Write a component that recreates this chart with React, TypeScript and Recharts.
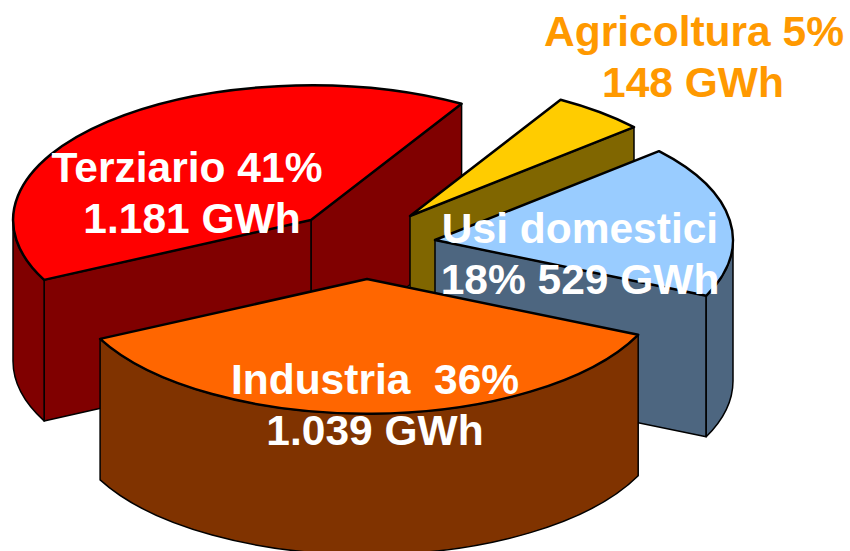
import { Pie, PieChart } from "recharts"

const SECTORS = ["Terziario", "Agricoltura", "Usi domestici", "Industria"]
const GWH = [1181, 148, 529, 1039]
const CAPTION_TOP = ["Terziario 41%", "Agricoltura 5%", "Usi domestici", "Industria  36%"]
const CAPTION_BOTTOM = ["1.181 GWh", "148 GWh", "18% 529 GWh", "1.039 GWh"]

const TOP_COLORS = ["#FF0000", "#FFCC00", "#99CCFF", "#FF6600"]
const WALL_COLORS = ["#800000", "#806600", "#4D6680", "#803300"]
const CAPTION_COLORS = ["#FFFFFF", "#FF9900", "#FFFFFF", "#FFFFFF"]
const CAPTION_X = [187, 694, 580, 375]
const CAPTION_BOTTOM_X = [192, 693, 580, 375]
const CAPTION_Y = [182, 46, 243, 394]
// apex of every pulled-out slice, relative to the pie centre
const EXPLODE_X = [-69, 30, 55, -13]
const EXPLODE_Y = [-20, -24, 0, 39]

const CX = 380
const CY = 240
const RADIUS = 298
const SQUASH = 0.452
const DEPTH = 141
const START_ANGLE = 206.4

const chartData = SECTORS.map((name, index) => ({ name, value: GWH[index], index }))

const FONT = "'Liberation Sans', Arial, sans-serif"

function rad(deg: number) {
  return (deg * Math.PI) / 180
}

function ExtrudedSlice(props: any) {
  const { cx, cy, outerRadius, startAngle, endAngle, payload } = props
  const i = payload.index ?? props.index
  const ox = cx + EXPLODE_X[i]
  const oy = cy + EXPLODE_Y[i]
  const ry = outerRadius * SQUASH
  const px = (a: number) => ox + outerRadius * Math.cos(rad(a))
  const py = (a: number) => oy - ry * Math.sin(rad(a))

  const hi = Math.max(startAngle, endAngle)
  const lo = Math.min(startAngle, endAngle)
  const f = (n: number) => n.toFixed(1)

  const cutFace = (a: number) =>
    `M${f(ox)},${f(oy)} L${f(px(a))},${f(py(a))} L${f(px(a))},${f(py(a) + DEPTH)} L${f(ox)},${f(oy + DEPTH)} Z`

  // part of the rim that faces the viewer (lower half of the ellipse)
  const rims: string[] = []
  for (const [from, to] of [
    [-180, 0],
    [180, 360],
  ]) {
    const a = Math.max(lo, from)
    const b = Math.min(hi, to)
    if (b > a) {
      rims.push(
        `M${f(px(a))},${f(py(a))} A${outerRadius},${f(ry)} 0 ${b - a > 180 ? 1 : 0} 0 ${f(px(b))},${f(py(b))} ` +
          `L${f(px(b))},${f(py(b) + DEPTH)} A${outerRadius},${f(ry)} 0 ${b - a > 180 ? 1 : 0} 1 ${f(px(a))},${f(py(a) + DEPTH)} Z`,
      )
    }
  }

  const top =
    `M${f(ox)},${f(oy)} L${f(px(hi))},${f(py(hi))} ` +
    `A${outerRadius},${f(ry)} 0 ${hi - lo > 180 ? 1 : 0} 1 ${f(px(lo))},${f(py(lo))} Z`

  const wall = WALL_COLORS[i]
  return (
    <g>
      {Math.cos(rad(lo)) > 0 && (
        <path d={cutFace(lo)} fill={wall} stroke="#000" strokeWidth={1.5} strokeLinejoin="round" />
      )}
      {Math.cos(rad(hi)) < 0 && (
        <path d={cutFace(hi)} fill={wall} stroke="#000" strokeWidth={1.5} strokeLinejoin="round" />
      )}
      {rims.map((d) => (
        <path key={d} d={d} fill={wall} stroke="#000" strokeWidth={1.5} strokeLinejoin="round" />
      ))}
      <path d={top} fill={TOP_COLORS[i]} stroke="#000" strokeWidth={2.5} strokeLinejoin="round" />
    </g>
  )
}

function renderCaption(props: any) {
  const i = props.payload?.index ?? props.index
  return (
    <text
      key={SECTORS[i]}
      textAnchor="middle"
      fontFamily={FONT}
      fontWeight={700}
      fontSize={42.5}
      fill={CAPTION_COLORS[i]}
      style={{ whiteSpace: "pre" }}
    >
      <tspan x={CAPTION_X[i]} y={CAPTION_Y[i]}>
        {CAPTION_TOP[i]}
      </tspan>
      <tspan x={CAPTION_BOTTOM_X[i]} y={CAPTION_Y[i] + 51}>
        {CAPTION_BOTTOM[i]}
      </tspan>
    </text>
  )
}

export default function App() {
  return (
    <div style={{ position: "absolute", left: 0, top: 0, width: 850, height: 551, background: "#fff" }}>
      <PieChart width={850} height={551} margin={{ top: 0, right: 0, bottom: 0, left: 0 }}>
        <Pie
          data={chartData}
          dataKey="value"
          nameKey="name"
          cx={CX}
          cy={CY}
          innerRadius={0}
          outerRadius={RADIUS}
          startAngle={START_ANGLE}
          endAngle={START_ANGLE - 360}
          paddingAngle={0}
          stroke="none"
          isAnimationActive={false}
          shape={ExtrudedSlice}
          label={renderCaption}
          labelLine={false}
          rootTabIndex={-1}
        />
      </PieChart>
    </div>
  )
}
